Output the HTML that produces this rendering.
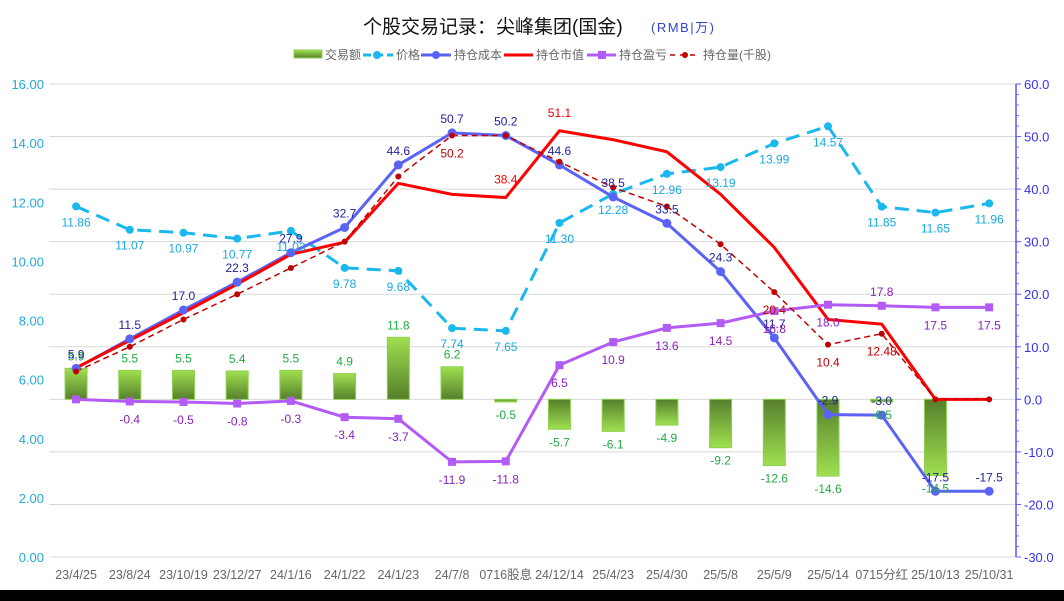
<!DOCTYPE html>
<html><head><meta charset="utf-8"><style>
body{margin:0;background:#fff;width:1064px;height:601px;overflow:hidden}
svg{display:block;font-family:"Liberation Sans","Noto Sans CJK SC",sans-serif}
</style></head><body>
<svg id="chart" width="1064" height="601">
<rect x="0" y="0" width="1064" height="601" fill="#fff"/>
<rect x="0" y="590" width="1064" height="11" fill="#000"/>
<text x="363" y="33" font-size="19" fill="#111">个股交易记录：尖峰集团(国金)</text>
<text x="651" y="32" font-size="13" fill="#3344cc" letter-spacing="1.5">(RMB|万)</text>
<g id="legend" font-size="12" fill="#666"></g>
<g id="grid"></g><g id="axes"></g><g id="marks"></g><g id="labels"></g>
</svg>
<script>
const categories=["23/4/25","23/8/24","23/10/19","23/12/27","24/1/16","24/1/22","24/1/23","24/7/8","0716股息","24/12/14","25/4/23","25/4/30","25/5/8","25/5/9","25/5/14","0715分红","25/10/13","25/10/31"];
const volume=[5.9,5.5,5.5,5.4,5.5,4.9,11.8,6.2,-0.5,-5.7,-6.1,-4.9,-9.2,-12.6,-14.6,-0.5,-14.5,null];
const price=[11.86,11.07,10.97,10.77,11.03,9.78,9.68,7.74,7.65,11.30,12.28,12.96,13.19,13.99,14.57,11.85,11.65,11.96];
const cost=[5.9,11.5,17.0,22.3,27.9,32.7,44.6,50.7,50.2,44.6,38.5,33.5,24.3,11.7,-2.9,-3.0,-17.5,-17.5];
const marketValue=[6.0,11.2,16.5,21.9,27.6,29.9,41.1,39.0,38.4,51.1,49.4,47.1,39.0,28.9,15.2,14.3,0,0];
const marketLabels=[null,null,null,null,null,null,null,null,"38.4","51.1",null,null,null,null,null,null,null,null];
const pnl=[0,-0.4,-0.5,-0.8,-0.3,-3.4,-3.7,-11.9,-11.8,6.5,10.9,13.6,14.5,16.8,18.0,17.8,17.5,17.5];
const qty=[5.3,10.0,15.2,20.0,25.0,30.0,42.4,50.2,50.2,45.2,40.3,36.7,29.5,20.4,10.4,12.48,0,0];
const qtyLabels=[null,null,null,null,null,null,null,"50.2",null,null,null,null,null,"20.4","10.4","12.48",null,null];
const leftTicks=[0,2,4,6,8,10,12,14,16];
const rightTicks=[-30,-20,-10,0,10,20,30,40,50,60];

const NS="http://www.w3.org/2000/svg";
const L=49.2,R=1016,T=84,B=557;
const band=(R-L)/categories.length;
const x=i=>L+band*(i+0.5);
const yL=v=>B-(v-0)/(16-0)*(B-T);
const yR=v=>B-(v+30)/90*(B-T);
function el(tag,attrs,parent,text){const e=document.createElementNS(NS,tag);for(const k in attrs)e.setAttribute(k,attrs[k]);if(text!=null)e.textContent=text;document.getElementById(parent).appendChild(e);return e;}

const defs=document.createElementNS(NS,"defs");
defs.innerHTML='<linearGradient id="gPos" x1="0" y1="0" x2="0" y2="1"><stop offset="0" stop-color="#9fe050"/><stop offset="1" stop-color="#567f2c"/></linearGradient><linearGradient id="gNeg" x1="0" y1="0" x2="0" y2="1"><stop offset="0" stop-color="#567f2c"/><stop offset="1" stop-color="#9fe050"/></linearGradient>';
document.getElementById("chart").prepend(defs);

rightTicks.forEach(t=>{
  const g=el("line",{x1:L,x2:R,y1:yR(t),y2:yR(t),stroke:"#d8d8d8","stroke-width":1},"grid");
  
  
  const tk=el("text",{x:1024,y:yR(t)+5,"font-size":13,fill:"#3333ee"},"axes",t.toFixed(1));
  
  
  el("line",{x1:R,x2:R+5,y1:yR(t),y2:yR(t),stroke:"#5555ff"},"axes");
});
for(let t=-30;t<60;t+=2){el("line",{x1:R,x2:R+3,y1:yR(t),y2:yR(t),stroke:"#7777ff"},"axes");}
const ra=el("line",{x1:R,x2:R,y1:T,y2:B,stroke:"#5555ff","stroke-width":1.5},"axes");


leftTicks.forEach(t=>{
  const tk=el("text",{x:44,y:yL(t)+5,"font-size":13,fill:"#22aadd","text-anchor":"end"},"axes",t.toFixed(2));
  
  
});
categories.forEach((c,i)=>{
  const tk=el("text",{x:x(i),y:579,"font-size":12.5,fill:"#666","text-anchor":"middle"},"axes",c);
  
  
});

const z=yR(0);
volume.forEach((v,i)=>{
  if(v==null)return;
  const y=yR(v);
  const b=el("rect",{x:x(i)-11,y:Math.min(y,z),width:22,height:Math.abs(y-z),fill:v>=0?"url(#gPos)":"url(#gNeg)",stroke:"#8fd050","stroke-width":1},"marks");
  
  
  const lb=el("text",{x:x(i),y:v>=0?y-8:y+17,"font-size":12,fill:"#22aa44","text-anchor":"middle"},"labels",v.toFixed(1));
  
  
});

function line(vals,yf,color,w,dash,name){
  const p=el("polyline",{points:vals.map((v,i)=>x(i)+","+yf(v)).join(" "),fill:"none",stroke:color,"stroke-width":w,"stroke-dasharray":dash||"none"},"marks");
  
  
}
line(price,yL,"#1ab8ee",3,"14,8","price-line");
line(cost,yR,"#5b63f5",3,null,"cost-line");
line(marketValue,yR,"#ff0000",3,null,"market-value-line");
line(pnl,yR,"#b35cf5",3,null,"pnl-line");
line(qty,yR,"#c00000",1.5,"6,4","quantity-line");

price.forEach((v,i)=>{
  const c=el("circle",{cx:x(i),cy:yL(v),r:4,fill:"#1ab8ee"},"marks");
  
  
  const t=el("text",{x:x(i),y:yL(v)+20,"font-size":12,fill:"#1aa8e0","text-anchor":"middle"},"labels",v.toFixed(2));
  
  
});
cost.forEach((v,i)=>{
  const c=el("circle",{cx:x(i),cy:yR(v),r:4.5,fill:"#5b63f5"},"marks");
  
  
  const t=el("text",{x:x(i),y:yR(v)-10,"font-size":12,fill:"#22229a","text-anchor":"middle"},"labels",v.toFixed(1));
  
  
});
pnl.forEach((v,i)=>{
  const c=el("rect",{x:x(i)-4,y:yR(v)-4,width:8,height:8,fill:"#b35cf5"},"marks");
  
  
  if(i===0)return;
  const above=i===15;
  const t=el("text",{x:x(i),y:above?yR(v)-10:yR(v)+22,"font-size":12,fill:"#8a22bb","text-anchor":"middle"},"labels",v.toFixed(1));
  
  
});
qty.forEach((v,i)=>{
  const c=el("circle",{cx:x(i),cy:yR(v),r:3,fill:"#c00000"},"marks");
  
  
  if(qtyLabels[i]){
    const t=el("text",{x:x(i),y:yR(v)+22,"font-size":12,fill:"#c00000","text-anchor":"middle"},"labels",qtyLabels[i]);
    
    
  }
});
marketValue.forEach((v,i)=>{
  if(marketLabels[i]){
    const t=el("text",{x:x(i),y:yR(v)-14,"font-size":12,fill:"#ee0000","text-anchor":"middle"},"labels",marketLabels[i]);
    
    
  }
});

const lg=document.getElementById("legend");
lg.innerHTML=
'<rect x="294" y="50" width="28" height="8" fill="url(#gPos)" stroke="#8fd050"/><text x="325" y="59">交易额</text>'+
'<line x1="363" x2="393" y1="55" y2="55" stroke="#1ab8ee" stroke-width="3" stroke-dasharray="8,4"/><circle cx="377" cy="55" r="4" fill="#1ab8ee"/><text x="396" y="59">价格</text>'+
'<line x1="421" x2="451" y1="55" y2="55" stroke="#5b63f5" stroke-width="3"/><circle cx="436" cy="55" r="4" fill="#5b63f5"/><text x="454" y="59">持仓成本</text>'+
'<line x1="504" x2="533" y1="55" y2="55" stroke="#ff0000" stroke-width="3"/><text x="536" y="59">持仓市值</text>'+
'<line x1="587" x2="616" y1="55" y2="55" stroke="#b35cf5" stroke-width="3"/><rect x="598" y="51" width="8" height="8" fill="#b35cf5"/><text x="619" y="59">持仓盈亏</text>'+
'<line x1="670" x2="700" y1="55" y2="55" stroke="#c00000" stroke-width="1.5" stroke-dasharray="5,5"/><circle cx="685" cy="55" r="3" fill="#c00000"/><text x="703" y="59">持仓量(千股)</text>';
</script>
</body></html>
